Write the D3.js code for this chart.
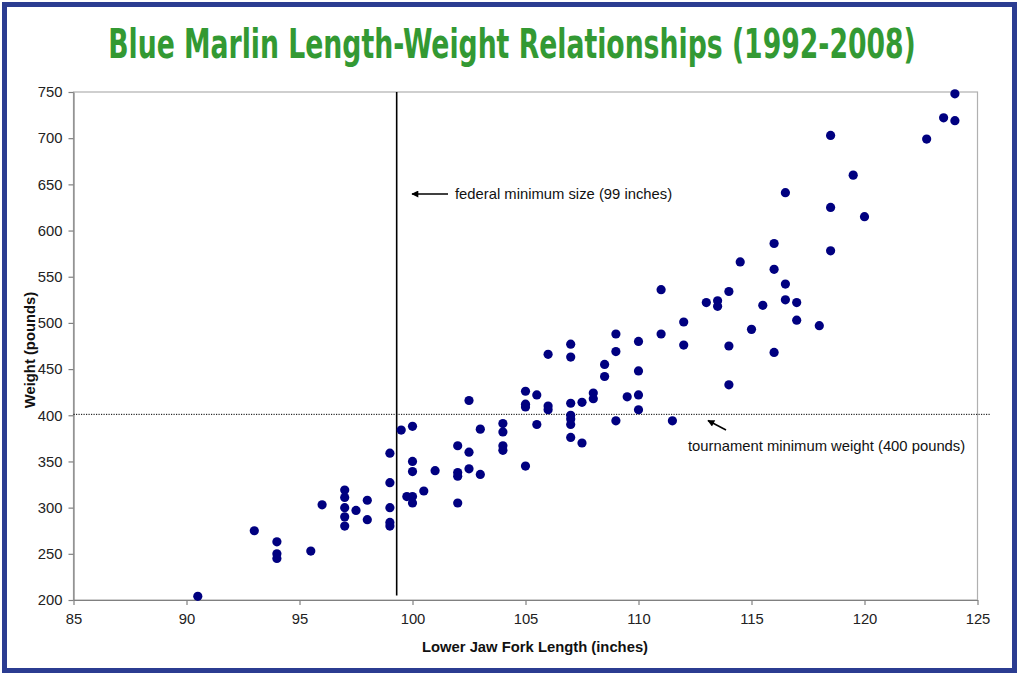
<!DOCTYPE html>
<html><head><meta charset="utf-8">
<script src="https://cdn.jsdelivr.net/npm/d3@7"></script>
<style>html,body{margin:0;padding:0;background:#fff;}svg{display:block;}</style>
</head><body>
<script>
const titleText = "Blue Marlin Length-Weight Relationships (1992-2008)";
const xLabel = "Lower Jaw Fork Length (inches)";
const yLabel = "Weight (pounds)";
const xTicks = [85,90,95,100,105,110,115,120,125];
const yTicks = [200,250,300,350,400,450,500,550,600,650,700,750];

const lengths = [90.5,93,94,94,94,95.5,96,97,97,97,97,97,97.5,98,98,
  99,99,99,99,99,99.5,99.75,100,100,100,100,100,100.5,101,
  102,102,102,102,102.5,102.5,102.5,103,103,104,104,104,104,
  105,105,105,105,105.5,105.5,106,106,106,
  107,107,107,107,107,107,107,107.5,107.5,108,108,108.5,108.5,
  109,109,109,109.5,110,110,110,110,111,111,111.5,112,112,
  113,113.5,113.5,114,114,114,114.5,115,115.5,116,116,116,
  116.5,116.5,116.5,117,117,118,118.5,118.5,118.5,119.5,120,122.75,123.5,124,124];
const weights = [204,275,263,250,245,253,303,319,311,300,290,280,297,308,287,
  359,327,300,284,280,384,312,388,350,339,312,305,318,340,
  367,338,334,305,416,360,342,385,336,391,382,367,362,
  426,412,409,345,422,390,466,410,406,
  477,463,413,400,396,390,376,414,370,424,418,455,442,
  488,469,394,420,480,448,422,406,536,488,394,501,476,
  522,524,518,534,475,433,566,493,519,586,558,468,
  641,542,525,522,503,497,703,625,578,660,615,699,722,748,719];

const fedMinLength = 99.3, fedLineFrom = 750, fedLineTo = 205;
const tourMinWeight = 401, tourLineFrom = 85, tourLineTo = 125.55;
const fedNote = "federal minimum size (99 inches)";
const tourNote = "tournament minimum weight (400 pounds)";

const W = 1019, H = 675;
const svg = d3.select("body").append("svg").attr("width", W).attr("height", H);
svg.append("rect").attr("x",0).attr("y",0).attr("width",W).attr("height",H).attr("fill","#fff");
svg.append("rect").attr("x",4.5).attr("y",4.5).attr("width",W-9).attr("height",H-9)
  .attr("fill","none").attr("stroke","#2b3c91").attr("stroke-width",5);

// title: condensed by horizontal scaling to match the narrow display face
const tg = svg.append("g");
const tt = tg.append("text").attr("x",0).attr("y",0).attr("text-anchor","middle")
  .attr("font-family","'DejaVu Sans Condensed','DejaVu Sans',sans-serif")
  .attr("font-stretch","condensed").attr("font-weight","bold").attr("font-size",41)
  .attr("fill","#339933").text(titleText);
const natW = tt.node().getComputedTextLength();
tg.attr("transform",`translate(512,58) scale(${808/natW},1)`);

const pL = 73.5, pR = 977.5, pT = 92, pB = 600;
const x = d3.scaleLinear().domain([85,125]).range([pL,pR]);
const y = d3.scaleLinear().domain([200,750]).range([pB,pT]);

const font = "'Liberation Sans', Arial, sans-serif";
const fs = 14.8;

// plot frame
svg.append("rect").attr("x",pL).attr("y",pT).attr("width",pR-pL).attr("height",pB-pT)
  .attr("fill","none").attr("stroke","#b0b0b0").attr("stroke-width",1.2);

const xAxis = svg.append("g").attr("transform",`translate(0,${pB})`)
  .call(d3.axisBottom(x).tickValues(xTicks).tickSize(5).tickSizeOuter(0).tickPadding(8));
const yAxis = svg.append("g").attr("transform",`translate(${pL},0)`)
  .call(d3.axisLeft(y).tickValues(yTicks).tickSize(5).tickSizeOuter(0).tickPadding(6));
[xAxis,yAxis].forEach(a=>{
  a.select(".domain").attr("stroke","#808080").attr("stroke-width",1.2);
  a.selectAll(".tick line").attr("stroke","#808080").attr("stroke-width",1.2);
  a.selectAll(".tick text").attr("font-family",font).attr("font-size",fs).attr("fill","#222");
});

svg.append("text").attr("x",535).attr("y",652).attr("text-anchor","middle")
  .attr("font-family",font).attr("font-weight","bold").attr("font-size",fs).attr("fill","#111")
  .text(xLabel);
svg.append("text").attr("transform","translate(35,350) rotate(-90)").attr("text-anchor","middle")
  .attr("font-family",font).attr("font-weight","bold").attr("font-size",fs).attr("fill","#111")
  .text(yLabel);

// reference lines
svg.append("line").attr("x1",x(fedMinLength)).attr("x2",x(fedMinLength))
  .attr("y1",y(fedLineFrom)).attr("y2",y(fedLineTo)).attr("stroke","#000").attr("stroke-width",1.6);
svg.append("line").attr("x1",x(tourLineFrom)).attr("x2",x(tourLineTo))
  .attr("y1",y(tourMinWeight)).attr("y2",y(tourMinWeight))
  .attr("stroke","#000").attr("stroke-width",1).attr("stroke-dasharray","1.2,1.3");

// points
svg.append("g").selectAll("circle").data(lengths.map((l,i)=>[l,weights[i]])).join("circle")
  .attr("cx",d=>x(d[0])).attr("cy",d=>y(d[1])).attr("r",4.6).attr("fill","#000080");

// annotations
const defs = svg.append("defs");
defs.append("marker").attr("id","ah").attr("viewBox","0 0 10 10").attr("refX",9).attr("refY",5)
  .attr("markerWidth",9).attr("markerHeight",7).attr("markerUnits","userSpaceOnUse").attr("orient","auto")
  .append("path").attr("d","M0,0L10,5L0,10z").attr("fill","#000");
svg.append("line").attr("x1",448).attr("y1",194).attr("x2",412).attr("y2",194)
  .attr("stroke","#000").attr("stroke-width",1.5).attr("marker-end","url(#ah)");
svg.append("text").attr("x",455).attr("y",199).attr("font-family",font).attr("font-size",fs).attr("fill","#111")
  .text(fedNote);
svg.append("line").attr("x1",726).attr("y1",430).attr("x2",708).attr("y2",420.5)
  .attr("stroke","#000").attr("stroke-width",1.5).attr("marker-end","url(#ah)");
svg.append("text").attr("x",688).attr("y",451).attr("font-family",font).attr("font-size",fs).attr("fill","#111")
  .text(tourNote);
</script>
</body></html>
